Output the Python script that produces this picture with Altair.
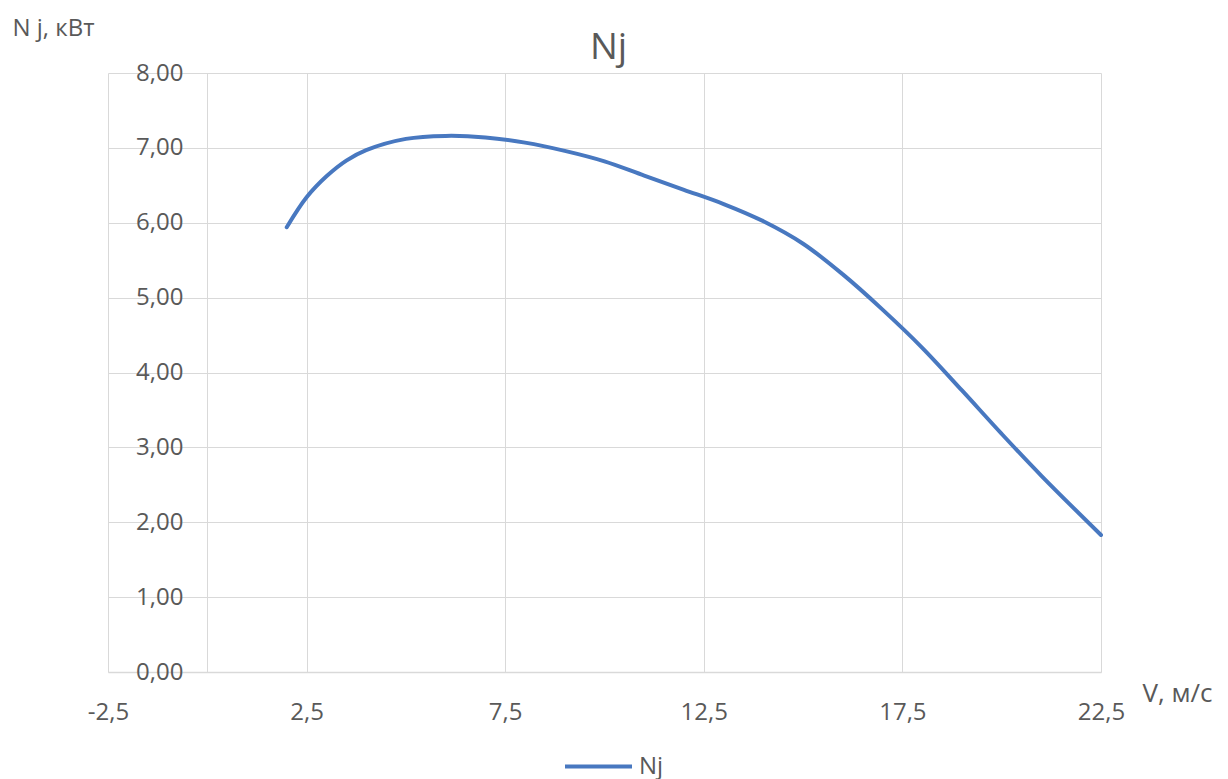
import altair as alt
import pandas as pd

# Wind speed, m/s
speed = [2.0, 2.5, 3.0, 3.5, 4.0, 5.0, 6.0, 7.0, 8.0, 9.0, 10.0, 11.0,
         12.0, 13.0, 14.0, 15.0, 16.0, 17.0, 18.0, 19.0, 20.0, 21.0, 22.5]
# Power Nj, kW
power = [5.94, 6.34, 6.62, 6.83, 6.97, 7.12, 7.16, 7.14, 7.07, 6.96, 6.82, 6.63,
         6.44, 6.25, 6.02, 5.72, 5.31, 4.84, 4.33, 3.76, 3.18, 2.62, 1.83]
series = "Nj"

x_ticks = [-2.5, 0, 2.5, 7.5, 12.5, 17.5, 22.5]
y_ticks = [0, 1, 2, 3, 4, 5, 6, 7, 8]

df = pd.DataFrame({"v": speed, "n": power, "series": series})

FONT = "Open Sans"
TEXT = "#595959"
GRID = "#D9D9D9"
BLUE = "#4878C0"

x_axis = alt.Axis(
    values=x_ticks,
    labelExpr="datum.value == 0 ? '' : replace(replace(format(datum.value, '.1f'), '.', ','), '\u2212', '-')",
    grid=True, gridColor=GRID, gridWidth=1,
    domain=True, domainColor=GRID, domainWidth=1.5,
    ticks=False, labelPadding=28, labelFlush=False, labelOverlap=False,
    labelFontSize=24, labelFont=FONT, labelColor=TEXT,
    title="V, м/с", titleFont=FONT, titleFontSize=26, titleFontWeight="normal",
    titleColor=TEXT, titleAlign="left", titleBaseline="top", titleAngle=0,
    titleX=1034, titleY=8,
)

y_axis = alt.Axis(
    values=y_ticks,
    labelExpr="replace(format(datum.value, '.2f'), '.', ',')",
    grid=True, gridColor=GRID, gridWidth=1,
    domain=False, ticks=False,
    labelPadding=-75, labelAlign="right", labelBaseline="middle",
    labelFlush=False, labelOverlap=False,
    labelFontSize=24, labelFont=FONT, labelColor=TEXT,
    title="N j, кВт", titleFont=FONT, titleFontSize=24, titleFontWeight="normal",
    titleColor=TEXT, titleAlign="left", titleBaseline="top", titleAngle=0,
    titleX=-96, titleY=-57,
)

chart = (
    alt.Chart(df)
    .mark_line(strokeWidth=4, interpolate="catmull-rom", strokeCap="round")
    .encode(
        x=alt.X("v:Q", scale=alt.Scale(domain=[-2.5, 22.5], nice=False, zero=False), axis=x_axis),
        y=alt.Y("n:Q", scale=alt.Scale(domain=[0, 8], nice=False), axis=y_axis),
        color=alt.Color(
            "series:N",
            scale=alt.Scale(range=[BLUE]),
            legend=alt.Legend(
                orient="none", legendX=455, legendY=658,
                title=None, padding=0,
                symbolType="stroke", symbolSize=4489, symbolStrokeWidth=4,
                labelFont=FONT, labelFontSize=24, labelColor=TEXT, labelOffset=5,
            ),
        ),
    )
    .properties(
        width=993,
        height=599,
        autosize=alt.AutoSizeParams(type="none"),
        padding={"left": 108, "top": 73, "right": 127, "bottom": 107},
        title=alt.TitleParams(
            "Nj", font=FONT, fontSize=37, fontWeight="normal", color=TEXT,
            anchor="middle", baseline="alphabetic", offset=10, dx=4, dy=90,
        ),
    )
    .configure_view(stroke=None)
)

chart.save("out.html", embed_options={"renderer": "svg", "actions": False})
